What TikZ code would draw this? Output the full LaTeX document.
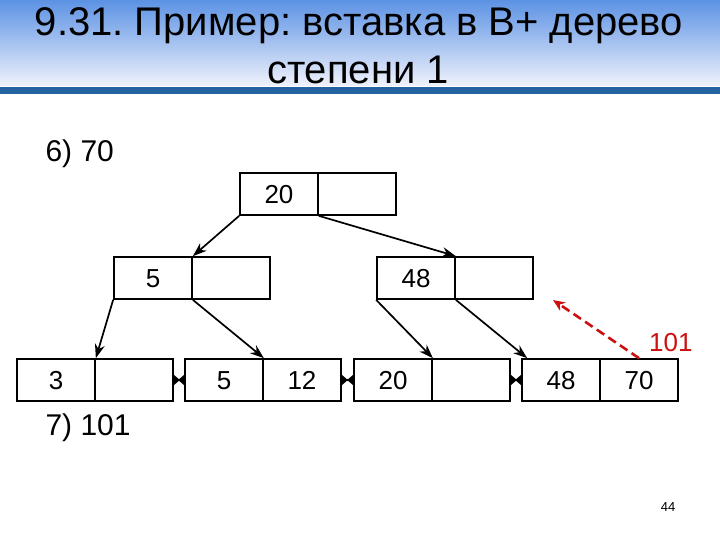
\documentclass[tikz,border=0pt]{standalone}
\usepackage{fontspec}
\setmainfont{Liberation Sans}
\usetikzlibrary{arrows.meta}
\definecolor{hdrtop}{RGB}{92,146,228}
\definecolor{hdrbot}{RGB}{240,242,252}
\definecolor{hdrbar}{RGB}{36,98,160}
\definecolor{newkey}{RGB}{204,16,16}
\frenchspacing

\begin{document}
\begin{tikzpicture}[x=1pt,y=-1pt,
    key/.style={draw,line width=1.7pt,minimum width=78pt,minimum height=42pt,
                inner sep=0pt,text height=18.5pt,text depth=0pt,
                font=\fontsize{26}{26}\selectfont},
    ptr/.style={-{Stealth[length=14pt,width=10pt]},line width=1.7pt},
    link/.style={{Triangle[reversed,length=6pt,width=10pt]}-{Triangle[reversed,length=6pt,width=10pt]},line width=1.2pt},
    note/.style={font=\fontsize{30}{30}\selectfont,anchor=base west}
   ]
  \useasboundingbox (0,0) rectangle (720,540);
  % header
  \shade[top color=hdrtop,bottom color=hdrbot] (0,0) rectangle (720,86);
  \fill[hdrbar] (0,87) rectangle (720,94);
  \node[font=\fontsize{40}{40}\selectfont,anchor=base] (title1) at (359,36) {9.31. Пример: вставка в В+ дерево};
  \node[font=\fontsize{40}{40}\selectfont,anchor=base] (title2) at (358,84) {степени 1};
  % steps
  \node[note] (step6) at (42,162) {6) 70};
  \node[note] (step7) at (42,435) {7) 101};
  % root
  \node[key] (root-a) at (279,194) {20};
  \node[key] (root-b) at (357,194) {};
  % inner level
  \node[key] (inner1-a) at (153,278) {5};
  \node[key] (inner1-b) at (231,278) {};
  \node[key] (inner2-a) at (416,278) {48};
  \node[key] (inner2-b) at (494,278) {};
  % leaves
  \node[key] (leaf1-a) at (56,380) {3};
  \node[key] (leaf1-b) at (134,380) {};
  \node[key] (leaf2-a) at (224,380) {5};
  \node[key] (leaf2-b) at (302,380) {12};
  \node[key] (leaf3-a) at (393,380) {20};
  \node[key] (leaf3-b) at (471,380) {};
  \node[key] (leaf4-a) at (561,380) {48};
  \node[key] (leaf4-b) at (639,380) {70};
  % pointers
  \draw[ptr] (root-a.south west) -- (inner1-a.north east);
  \draw[ptr] (root-a.south east) -- (inner2-a.north east);
  \draw[ptr] (inner1-a.south west) -- (leaf1-a.north east);
  \draw[ptr] (inner1-a.south east) -- (leaf2-a.north east);
  \draw[ptr] (inner2-a.south west) -- (leaf3-a.north east);
  \draw[ptr] (inner2-a.south east) -- ([xshift=6pt]leaf4-a.north west);
  % leaf chain
  \draw[link] (leaf1-b.east) -- (leaf2-a.west);
  \draw[link] (leaf2-b.east) -- (leaf3-a.west);
  \draw[link] (leaf3-b.east) -- (leaf4-a.west);
  % new key
  \coordinate (split) at (553,300);
  \draw[newkey,line width=2.6pt,dash pattern=on 9pt off 5pt,-{Stealth[length=12pt,width=10pt]}]
    (leaf4-b.north) -- (split);
  \node[newkey,font=\fontsize{26}{26}\selectfont,anchor=base east] (ins) at (696,351) {101};
  \node[font=\fontsize{13}{13}\selectfont] (page) at (668,507) {44};
\end{tikzpicture}
\end{document}
